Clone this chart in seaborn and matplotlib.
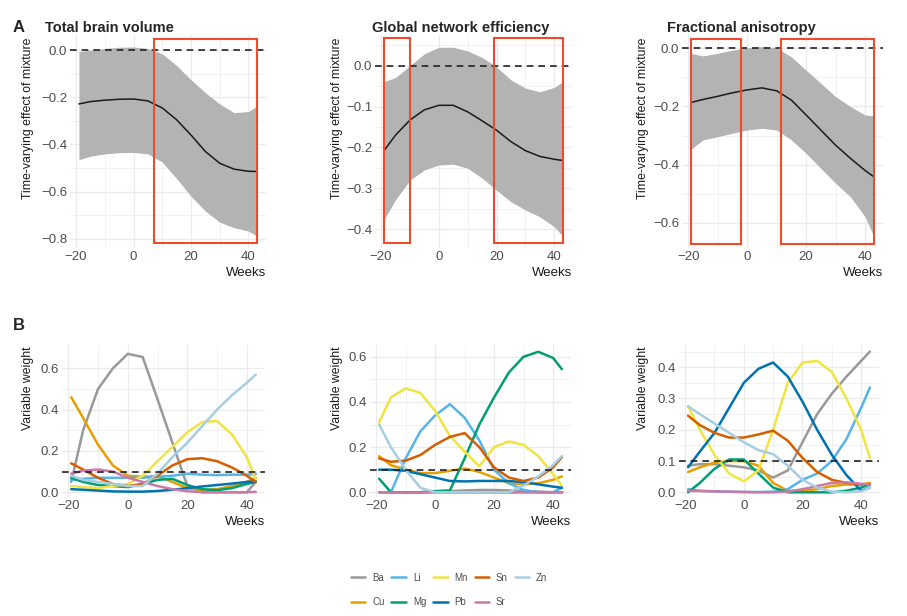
import numpy as np
import pandas as pd
import matplotlib
matplotlib.use("Agg")
import matplotlib.pyplot as plt
import matplotlib.patches as mpatches
from matplotlib.ticker import FixedLocator, FuncFormatter
import seaborn as sns

# --- Data ---
weeks = [-19, -15, -10, -5, 0, 5, 10, 15, 20, 25, 30, 35, 40, 43]

# Panel A: time-varying effect of mixture (mean + 95% band)
tbv_mean = [-0.228, -0.218, -0.212, -0.208, -0.207, -0.215, -0.245, -0.295,
            -0.36, -0.43, -0.48, -0.505, -0.514, -0.515]
tbv_upper = [-0.005, 0.0, 0.008, 0.013, 0.014, 0.008, -0.015, -0.065,
             -0.125, -0.18, -0.228, -0.265, -0.26, -0.236]
tbv_lower = [-0.465, -0.45, -0.44, -0.435, -0.434, -0.44, -0.475, -0.545,
             -0.62, -0.683, -0.73, -0.754, -0.768, -0.79]

gne_mean = [-0.208, -0.17, -0.133, -0.108, -0.097, -0.097, -0.113, -0.135,
            -0.158, -0.186, -0.208, -0.222, -0.229, -0.232]
gne_upper = [-0.039, -0.029, 0.0, 0.029, 0.045, 0.045, 0.036, 0.02,
             -0.003, -0.035, -0.055, -0.064, -0.053, -0.039]
gne_lower = [-0.377, -0.328, -0.28, -0.255, -0.243, -0.241, -0.251, -0.275,
             -0.305, -0.333, -0.353, -0.37, -0.394, -0.418]

fa_mean = [-0.186, -0.176, -0.165, -0.153, -0.143, -0.136, -0.146, -0.178,
           -0.229, -0.281, -0.333, -0.378, -0.42, -0.442]
fa_upper = [-0.017, -0.026, -0.017, -0.006, 0.002, 0.006, 0.002, -0.029,
            -0.075, -0.12, -0.166, -0.2, -0.229, -0.233]
fa_lower = [-0.347, -0.315, -0.304, -0.292, -0.281, -0.275, -0.281, -0.315,
            -0.361, -0.413, -0.464, -0.51, -0.579, -0.648]

# highlighted windows (weeks) and their vertical extent
tbv_boxes = [(7, 43)]
tbv_box_y = (-0.817, 0.05)
gne_boxes = [(-19, -10), (19, 43)]
gne_box_y = (-0.434, 0.067)
fa_boxes = [(-19, -2), (11.5, 43)]
fa_box_y = (-0.674, 0.032)

# Panel B: variable weights per metal
metals = ["Ba", "Cu", "Li", "Mg", "Mn", "Pb", "Sn", "Sr", "Zn"]
tbv_weights = {
    "Ba": [0.05, 0.3, 0.5, 0.6, 0.67, 0.655, 0.45, 0.24, 0.03, 0.0, 0.0, 0.0, 0.0, 0.05],
    "Cu": [0.46, 0.36, 0.23, 0.13, 0.08, 0.075, 0.078, 0.05, 0.02, 0.01, 0.015, 0.03, 0.05, 0.07],
    "Li": [0.06, 0.065, 0.07, 0.07, 0.07, 0.07, 0.075, 0.08, 0.09, 0.085, 0.083, 0.085, 0.085, 0.088],
    "Mg": [0.07, 0.05, 0.035, 0.03, 0.025, 0.04, 0.06, 0.065, 0.035, 0.015, 0.01, 0.02, 0.04, 0.05],
    "Mn": [0.03, 0.025, 0.02, 0.03, 0.04, 0.08, 0.15, 0.22, 0.29, 0.34, 0.345, 0.28, 0.17, 0.06],
    "Pb": [0.015, 0.012, 0.008, 0.004, 0.003, 0.003, 0.006, 0.012, 0.02, 0.028, 0.035, 0.042, 0.05, 0.052],
    "Sn": [0.14, 0.11, 0.07, 0.04, 0.03, 0.04, 0.08, 0.13, 0.16, 0.165, 0.15, 0.12, 0.08, 0.05],
    "Sr": [0.09, 0.105, 0.11, 0.1, 0.07, 0.05, 0.03, 0.015, 0.005, 0.0, 0.0, 0.0, 0.0, 0.002],
    "Zn": [0.08, 0.06, 0.05, 0.04, 0.03, 0.03, 0.09, 0.17, 0.24, 0.32, 0.4, 0.47, 0.53, 0.57],
}
gne_weights = {
    "Ba": [0.0, 0.0, 0.0, 0.0, 0.003, 0.005, 0.008, 0.01, 0.01, 0.008, 0.005, 0.003, 0.0, 0.0],
    "Cu": [0.16, 0.12, 0.1, 0.085, 0.085, 0.095, 0.105, 0.09, 0.065, 0.04, 0.035, 0.04, 0.055, 0.07],
    "Li": [0.0, 0.0, 0.15, 0.27, 0.34, 0.39, 0.33, 0.23, 0.1, 0.04, 0.01, 0.0, 0.0, 0.02],
    "Mg": [0.06, 0.0, 0.0, 0.0, 0.005, 0.008, 0.15, 0.3, 0.42, 0.53, 0.6, 0.622, 0.595, 0.545],
    "Mn": [0.31, 0.42, 0.46, 0.44, 0.36, 0.25, 0.18, 0.115, 0.2, 0.225, 0.21, 0.16, 0.08, 0.03],
    "Pb": [0.1, 0.1, 0.095, 0.08, 0.065, 0.05, 0.048, 0.05, 0.05, 0.05, 0.045, 0.035, 0.025, 0.02],
    "Sn": [0.15, 0.135, 0.14, 0.165, 0.21, 0.245, 0.262, 0.2, 0.11, 0.065, 0.05, 0.065, 0.11, 0.155],
    "Sr": [0.0, 0.0, 0.0, 0.0, 0.0, 0.0, 0.0, 0.0, 0.0, 0.0, 0.0, 0.0, 0.0, 0.0],
    "Zn": [0.3, 0.2, 0.1, 0.02, 0.0, 0.0, 0.0, 0.0, 0.0, 0.0, 0.03, 0.07, 0.12, 0.16],
}
fa_weights = {
    "Ba": [0.085, 0.09, 0.09, 0.085, 0.08, 0.07, 0.047, 0.07, 0.16, 0.25, 0.315, 0.37, 0.42, 0.45],
    "Cu": [0.065, 0.08, 0.095, 0.1, 0.1, 0.085, 0.03, 0.005, 0.005, 0.01, 0.02, 0.025, 0.025, 0.03],
    "Li": [0.01, 0.005, 0.003, 0.002, 0.001, 0.001, 0.002, 0.01, 0.04, 0.06, 0.1, 0.17, 0.27, 0.335],
    "Mg": [0.0, 0.03, 0.075, 0.105, 0.105, 0.06, 0.015, 0.0, 0.0, 0.0, 0.0, 0.005, 0.015, 0.025],
    "Mn": [0.275, 0.2, 0.12, 0.06, 0.035, 0.07, 0.2, 0.35, 0.415, 0.42, 0.385, 0.3, 0.2, 0.11],
    "Pb": [0.08, 0.13, 0.19, 0.27, 0.35, 0.395, 0.415, 0.37, 0.29, 0.2, 0.12, 0.055, 0.005, 0.015],
    "Sn": [0.245, 0.215, 0.19, 0.175, 0.175, 0.185, 0.197, 0.165, 0.11, 0.065, 0.04, 0.03, 0.025, 0.025],
    "Sr": [0.005, 0.004, 0.003, 0.002, 0.001, 0.0, 0.0, 0.002, 0.01, 0.02, 0.03, 0.032, 0.027, 0.025],
    "Zn": [0.275, 0.25, 0.22, 0.19, 0.16, 0.135, 0.122, 0.085, 0.04, 0.015, 0.002, 0.0, 0.003, 0.015],
}

metal_colors = {
    "Ba": "#999999", "Cu": "#E69F00", "Li": "#56B4E9", "Mg": "#009E73",
    "Mn": "#F0E442", "Pb": "#0072B2", "Sn": "#D55E00", "Sr": "#CC79A7",
    "Zn": "#A6CEE3",
}
threshold = 0.1

# --- Style ---
sns.set_style("white")
plt.rcParams["font.family"] = ["Liberation Sans Narrow", "Liberation Sans", "DejaVu Sans"]
W, H = 907, 616
TICK_COLOR = "#4d4d4d"
GRID = "#ebebeb"
RED = "#F04A2C"
FS = 9.5


def px_rect(l, r, t, b):
    return [l / W, 1 - b / H, (r - l) / W, (b - t) / H]


def style_axis(ax, ylim, yticks, yminor):
    ax.set_xlim(-22.1, 46.1)
    ax.set_ylim(*ylim)
    ax.xaxis.set_major_locator(FixedLocator([-20, 0, 20, 40]))
    ax.xaxis.set_minor_locator(FixedLocator([-10, 10, 30]))
    ax.yaxis.set_major_locator(FixedLocator(yticks))
    ax.yaxis.set_minor_locator(FixedLocator(yminor))
    ax.xaxis.set_major_formatter(FuncFormatter(lambda v, p: f"{v:.0f}".replace("-", "\u2212")))
    ax.yaxis.set_major_formatter(FuncFormatter(lambda v, p: f"{v:.1f}".replace("-", "\u2212")))
    ax.grid(which="major", color=GRID, lw=0.9)
    ax.grid(which="minor", color=GRID, lw=0.5)
    ax.set_axisbelow(True)
    for sp in ax.spines.values():
        sp.set_visible(False)
    ax.tick_params(which="both", length=0, labelsize=FS, labelcolor=TICK_COLOR, pad=2)
    ax.set_xlabel("Weeks", loc="right", fontsize=FS, color="#1a1a1a", labelpad=3)
    ax.set_ylabel("")


fig = plt.figure(figsize=(W / 100, H / 100), dpi=100)

# --- Panel A ---
top_panels = [
    ("Total brain volume", tbv_mean, tbv_upper, tbv_lower, tbv_boxes, tbv_box_y,
     (70, 266), (-0.84, 0.065), [-0.8, -0.6, -0.4, -0.2, 0.0],
     [-0.7, -0.5, -0.3, -0.1], 45, 28),
    ("Global network efficiency", gne_mean, gne_upper, gne_lower, gne_boxes, gne_box_y,
     (375, 572), (-0.446, 0.075), [-0.4, -0.3, -0.2, -0.1, 0.0],
     [-0.35, -0.25, -0.15, -0.05, 0.05], 372, 337),
    ("Fractional anisotropy", fa_mean, fa_upper, fa_lower, fa_boxes, fa_box_y,
     (682, 883), (-0.687, 0.046), [-0.6, -0.4, -0.2, 0.0],
     [-0.5, -0.3, -0.1], 667, 643),
]
for (title, mean, upper, lower, boxes, box_y, (l, r), ylim, yt, ym, tx, lx) in top_panels:
    ax = fig.add_axes(px_rect(l, r, 35, 248))
    ax.fill_between(weeks, lower, upper, color="#b3b3b3", lw=0)
    sns.lineplot(x=weeks, y=mean, ax=ax, color="#1a1a1a", lw=1.1)
    ax.axhline(0, color="#222222", lw=1.2, ls=(0, (4, 3)))
    for x0, x1 in boxes:
        ax.add_patch(mpatches.Rectangle((x0, box_y[0]), x1 - x0, box_y[1] - box_y[0],
                                        fill=False, ec=RED, lw=1.5, zorder=5))
    style_axis(ax, ylim, yt, ym)
    fig.text(tx / W, 1 - 32 / H, title, fontsize=10.5, fontweight="bold",
             family="Liberation Sans", va="baseline", ha="left")
    fig.text(lx / W, 1 - 118 / H, "Time-varying effect of mixture", rotation=90,
             fontsize=8.8, color="#1a1a1a", ha="center", va="center")

# --- Panel B ---
bottom_panels = [
    (tbv_weights, (62, 265), (-0.023, 0.713), [0.0, 0.2, 0.4, 0.6], [0.1, 0.3, 0.5], 28),
    (gne_weights, (370, 571), (-0.021, 0.652), [0.0, 0.2, 0.4, 0.6], [0.1, 0.3, 0.5], 337),
    (fa_weights, (679, 879), (-0.015, 0.471), [0.0, 0.1, 0.2, 0.3, 0.4],
     [0.05, 0.15, 0.25, 0.35, 0.45], 643),
]
handles = labels = None
for (weights, (l, r), ylim, yt, ym, lx) in bottom_panels:
    ax = fig.add_axes(px_rect(l, r, 345, 497))
    df = pd.DataFrame([
        {"week": wk, "weight": v, "metal": m}
        for m in metals for wk, v in zip(weeks, weights[m])
    ])
    sns.lineplot(data=df, x="week", y="weight", hue="metal", hue_order=metals,
                 palette=metal_colors, lw=1.8, ax=ax)
    ax.axhline(threshold, color="#222222", lw=1.2, ls=(0, (4, 3)), zorder=6)
    handles, labels = ax.get_legend_handles_labels()
    ax.get_legend().remove()
    style_axis(ax, ylim, yt, ym)
    fig.text(lx / W, 1 - 388 / H, "Variable weight", rotation=90,
             fontsize=8.8, color="#1a1a1a", ha="center", va="center")

fig.text(13 / W, 1 - 32 / H, "A", fontsize=12, fontweight="bold",
         family="Liberation Sans", va="baseline")
fig.text(13 / W, 1 - 330 / H, "B", fontsize=12, fontweight="bold",
         family="Liberation Sans", va="baseline")

leg = fig.legend(handles, labels, ncol=5, loc="center", bbox_to_anchor=(449 / W, 1 - 590 / H),
                 frameon=False, fontsize=7, handlelength=1.5, handletextpad=0.7,
                 columnspacing=0.7, labelspacing=1.5)
for t in leg.get_texts():
    t.set_color(TICK_COLOR)
for ln in leg.get_lines():
    ln.set_linewidth(1.8)

fig.savefig("out.png", dpi=100)
